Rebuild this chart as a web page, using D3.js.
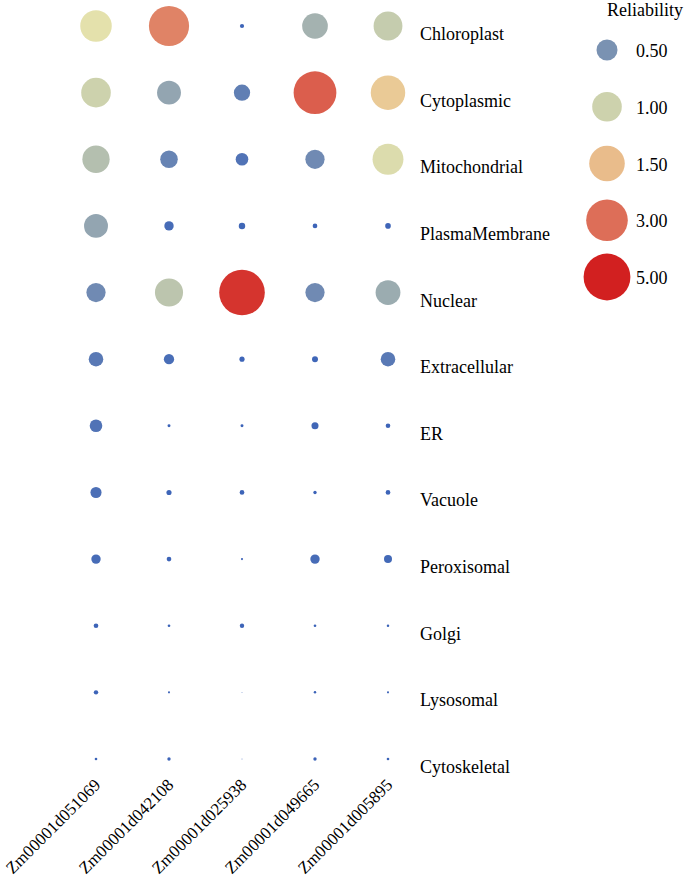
<!DOCTYPE html>
<html>
<head>
<meta charset="utf-8">
<script src="https://cdn.jsdelivr.net/npm/d3@7"></script>
<style>
  body { margin: 0; background: #fff; }
  svg { display: block; }
  svg text { font-family: "Times New Roman", Times, "Liberation Serif", "DejaVu Serif", "Noto Serif", serif; font-size: 18px; fill: #000; }
  svg .xlab text { font-size: 17px; }
</style>
</head>
<body>
<div id="chart"></div>
<script>
const genes = ["Zm00001d051069", "Zm00001d042108", "Zm00001d025938", "Zm00001d049665", "Zm00001d005895"];
const locations = ["Chloroplast", "Cytoplasmic", "Mitochondrial", "PlasmaMembrane", "Nuclear",
  "Extracellular", "ER", "Vacuole", "Peroxisomal", "Golgi", "Lysosomal", "Cytoskeletal"];

// reliability per location (one row), in gene order
const chloroplast    = [1.15, 2.6, 0.02, 0.75, 0.95];
const cytoplasmic    = [1.0, 0.65, 0.3, 3.4, 1.4];
const mitochondrial  = [0.85, 0.35, 0.18, 0.42, 1.1];
const plasmaMembrane = [0.65, 0.1, 0.047, 0.025, 0.036];
const nuclear        = [0.42, 0.9, 4.5, 0.42, 0.7];
const extracellular  = [0.24, 0.12, 0.03, 0.04, 0.24];
const er             = [0.18, 0.01, 0.01, 0.056, 0.024];
const vacuole        = [0.14, 0.03, 0.025, 0.013, 0.025];
const peroxisomal    = [0.1, 0.025, 0.005, 0.1, 0.073];
const golgi          = [0.025, 0.008, 0.022, 0.008, 0.007];
const lysosomal      = [0.022, 0.005, 0.001, 0.007, 0.005];
const cytoskeletal   = [0.008, 0.013, 0.001, 0.013, 0.008];

const rows = [chloroplast, cytoplasmic, mitochondrial, plasmaMembrane, nuclear,
  extracellular, er, vacuole, peroxisomal, golgi, lysosomal, cytoskeletal];

const legendValues = [0.5, 1, 1.5, 3, 5];

const width = 685, height = 882;

const svg = d3
  .select("#chart")
  .append("svg")
  .attr("width", width)
  .attr("height", height);

// scales
const x = d3.scalePoint().domain(genes).range([96, 388]);
const y = d3.scalePoint().domain(locations).range([26, 759]);

const r = d3
  .scalePow()
  .exponent(0.5)
  .domain([0, 0.5, 1, 1.5, 3, 5])
  .range([0, 10.5, 14.8, 17.8, 20.8, 23.4]);

const color = d3
  .scaleLinear()
  .domain([0, 0.5, 1, 1.2, 1.5, 3, 5])
  .range(["#3a62b8", "#7a92b2", "#cdd2ad", "#ebe6ac", "#e9bc8b", "#dd6e58", "#d22020"]);

// flatten to cells
const cells = [];
rows.forEach((vals, i) => {
  vals.forEach((v, j) => {
    cells.push({ loc: locations[i], gene: genes[j], value: v });
  });
});

svg
  .append("g")
  .selectAll("circle")
  .data(cells)
  .enter()
  .append("circle")
  .attr("cx", (d) => x(d.gene))
  .attr("cy", (d) => y(d.loc))
  .attr("r", (d) => r(d.value))
  .attr("fill", (d) => color(d.value));

// location labels on the right
const yAxis = svg
  .append("g")
  .attr("transform", "translate(420,0)")
  .call(d3.axisRight(y).tickSize(0).tickPadding(0));
yAxis.select(".domain").remove();
yAxis.attr("font-family", null).attr("font-size", null)
  .selectAll("text")
  .attr("dy", "13.5");

// gene labels at the bottom
const xAxis = svg
  .append("g")
  .attr("class", "xlab")
  .attr("transform", "translate(0,786)")
  .call(d3.axisBottom(x).tickSize(0).tickPadding(0));
xAxis.select(".domain").remove();
xAxis.attr("font-family", null).attr("font-size", null)
  .selectAll("text")
  .attr("y", 0)
  .attr("dy", 0)
  .attr("text-anchor", "end")
  .attr("transform", "translate(5,0) rotate(-45)");

// legend
const legend = svg.append("g");
legend
  .append("text")
  .attr("x", 607)
  .attr("y", 16)
  .text("Reliability");

const ly = d3.scalePoint().domain(legendValues).range([50, 277]);

const item = legend
  .selectAll(".item")
  .data(legendValues)
  .enter()
  .append("g")
  .attr("class", "item")
  .attr("transform", (d) => "translate(607," + ly(d) + ")");

item
  .append("circle")
  .attr("r", (d) => r(d))
  .attr("fill", (d) => color(d));

item
  .append("text")
  .attr("x", 29)
  .attr("y", 7)
  .text((d) => d3.format(".2f")(d));
</script>
</body>
</html>
